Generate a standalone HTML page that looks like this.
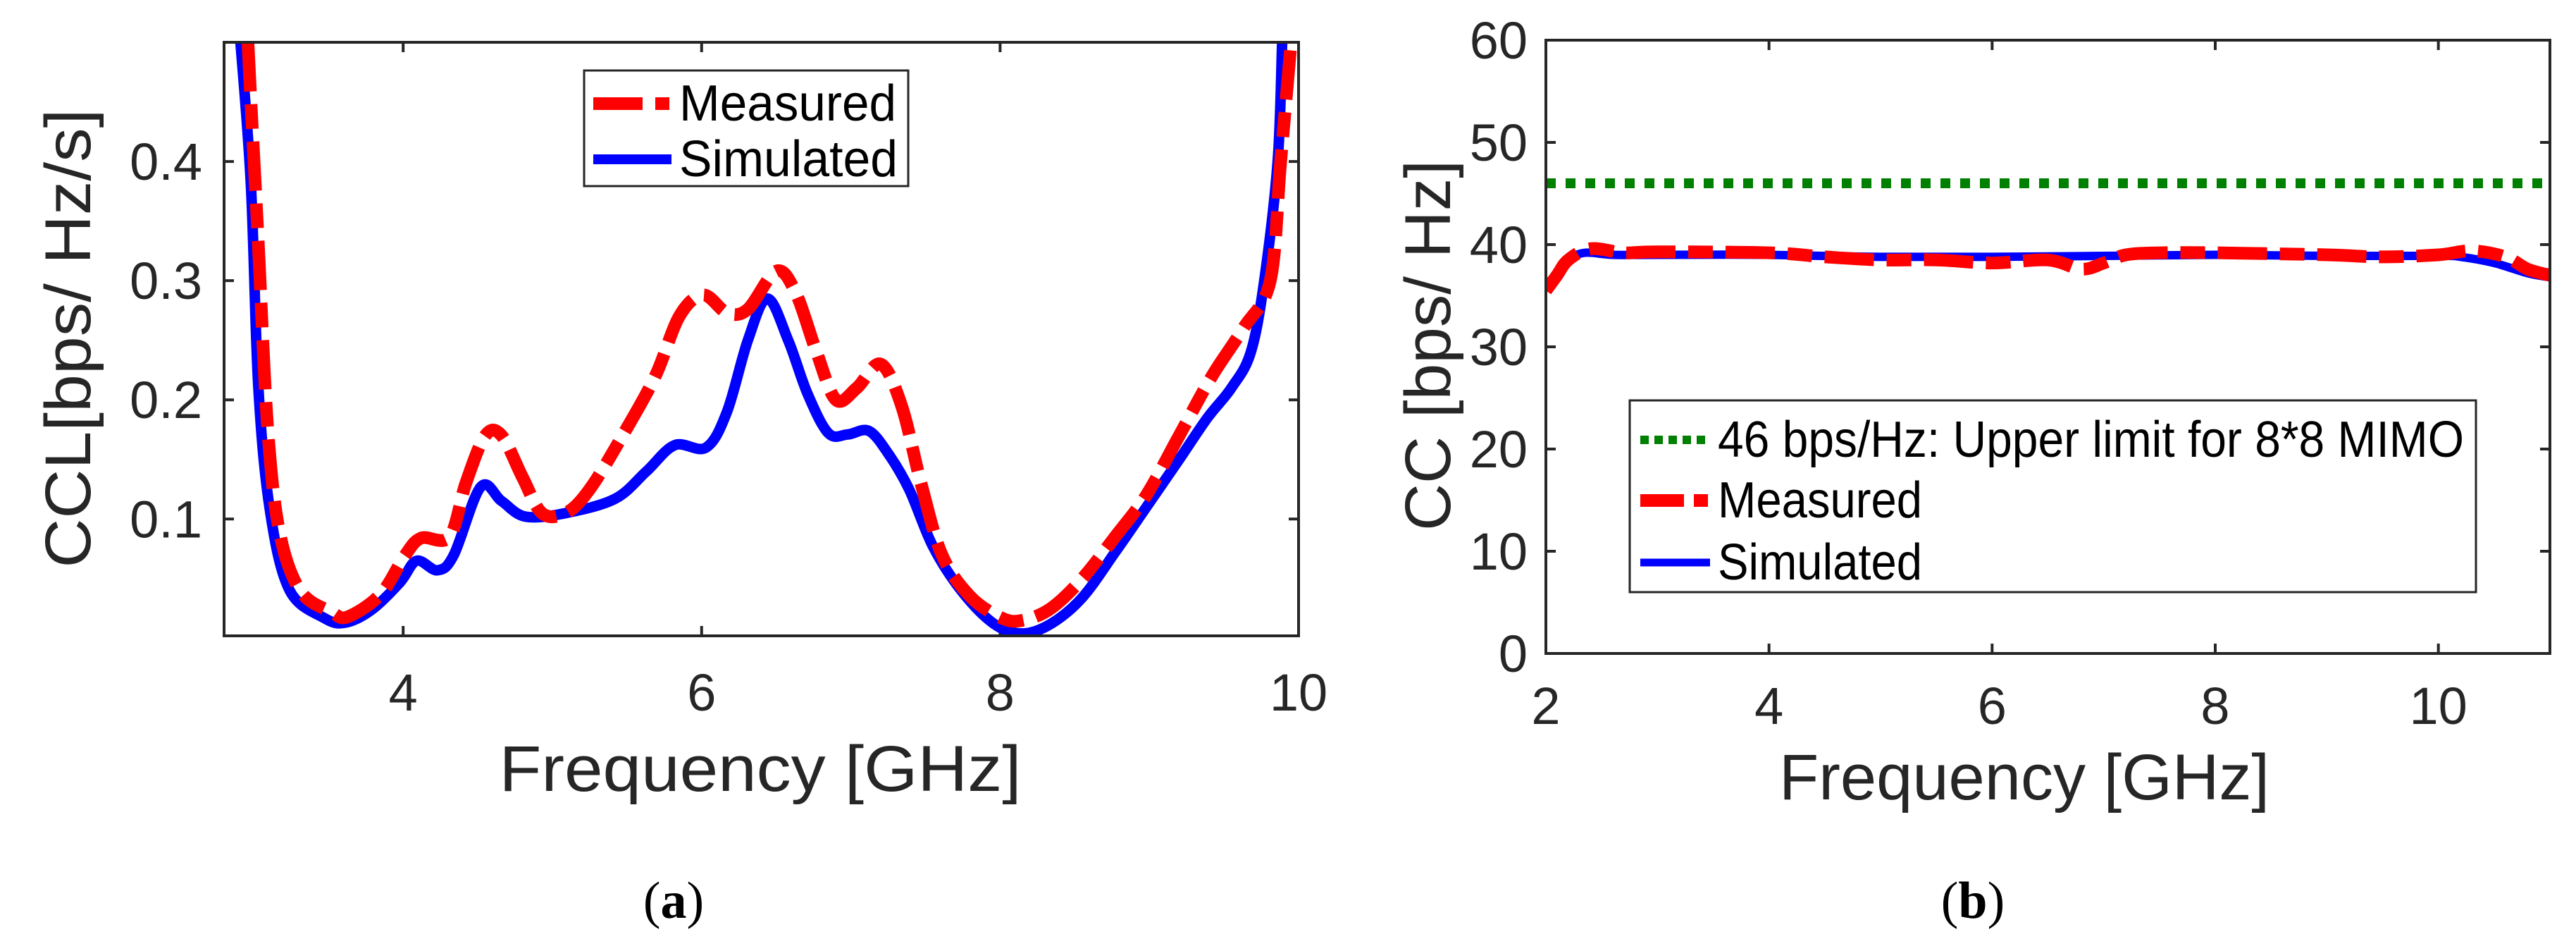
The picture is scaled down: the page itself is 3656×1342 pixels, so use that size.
<!DOCTYPE html>
<html><head><meta charset="utf-8"><style>
html,body{margin:0;padding:0;background:#fff;}
svg{display:block;font-family:"Liberation Sans",sans-serif;}
</style></head><body>
<svg id="fig" width="3656" height="1342" viewBox="0 0 3656 1342" xmlns="http://www.w3.org/2000/svg">
<g id="ga"></g>
<g id="gb"></g>
<text x="956" y="1302" font-family="Liberation Serif,serif" font-size="74" text-anchor="middle">(<tspan font-weight="bold">a</tspan>)</text>
<text x="2800" y="1302" font-family="Liberation Serif,serif" font-size="74" text-anchor="middle">(<tspan font-weight="bold">b</tspan>)</text>
</svg>
<script>
// Chart (a) data
const aSimX = [2.91,2.98,3.03,3.11,3.24,3.47,3.61,3.79,3.98,4.09,4.23,4.34,4.52,4.66,4.82,5.09,5.42,5.63,5.82,6.03,6.17,6.31,6.44,6.58,6.71,6.85,6.98,7.12,7.25,7.39,7.55,7.74,7.96,8.15,8.34,8.55,8.77,8.98,9.2,9.39,9.55,9.68,9.77,9.86,9.89];
const aSimY = [0.5,0.38,0.21,0.105,0.04,0.017,0.013,0.024,0.047,0.065,0.057,0.07,0.127,0.115,0.102,0.105,0.117,0.14,0.162,0.16,0.19,0.25,0.285,0.25,0.205,0.172,0.171,0.174,0.155,0.125,0.077,0.04,0.012,0.004,0.012,0.034,0.072,0.11,0.15,0.185,0.21,0.24,0.3,0.4,0.5];
const aMeasX = [2.96,2.98,3.03,3.09,3.17,3.31,3.52,3.63,3.85,4.01,4.12,4.31,4.42,4.55,4.66,4.8,4.93,5.09,5.25,5.47,5.69,5.85,6.01,6.17,6.31,6.5,6.63,6.77,6.9,7.04,7.2,7.34,7.47,7.61,7.8,8.01,8.15,8.34,8.55,8.77,8.98,9.2,9.42,9.63,9.81,9.88,9.95];
const aMeasY = [0.5,0.45,0.33,0.18,0.09,0.04,0.022,0.018,0.037,0.069,0.084,0.085,0.13,0.17,0.17,0.135,0.105,0.105,0.125,0.17,0.22,0.27,0.288,0.273,0.276,0.308,0.29,0.24,0.2,0.21,0.23,0.195,0.13,0.07,0.035,0.017,0.015,0.025,0.05,0.085,0.12,0.17,0.22,0.26,0.3,0.4,0.5];
const aXTicks = [4,6,8,10];
const aYTicks = [0.1,0.2,0.3,0.4];
// Chart (b) data
const bSimX = [2.0,2.1,2.2,2.35,2.6,3,4,5,6,7,8,9,10,10.2,10.5,10.8,11];
const bSimY = [36,37.2,38.5,39.2,39,39,39,38.8,38.8,38.9,39,38.9,38.9,38.8,38.2,37.2,36.8];
const bMeasX = [2.0,2.1,2.2,2.4,2.7,3,4,4.5,5,5.5,6,6.5,6.8,7.0,7.2,7.5,8,9,9.5,10,10.3,10.6,10.8,11];
const bMeasY = [35.5,37,38.5,39.6,39.2,39.3,39.2,38.8,38.5,38.5,38.2,38.5,37.6,38.2,39,39.2,39.2,39,38.8,39,39.4,38.8,37.6,37];
const bLimit = [46];
const bXTicks = [2,4,6,8,10];
const bYTicks = [0,10,20,30,40,50,60];

const NS="http://www.w3.org/2000/svg";
function mk(parent,tag,attrs,txt){const e=document.createElementNS(NS,tag);for(const k in attrs)e.setAttribute(k,attrs[k]);if(txt!==undefined)e.textContent=txt;parent.appendChild(e);return e;}
function smooth(pts){
  let d='M'+pts[0][0].toFixed(1)+','+pts[0][1].toFixed(1);
  for(let i=0;i<pts.length-1;i++){
    const p0=pts[Math.max(0,i-1)],p1=pts[i],p2=pts[i+1],p3=pts[Math.min(pts.length-1,i+2)];
    const c1=[p1[0]+(p2[0]-p0[0])/6,p1[1]+(p2[1]-p0[1])/6];
    const c2=[p2[0]-(p3[0]-p1[0])/6,p2[1]-(p3[1]-p1[1])/6];
    d+=`C${c1[0].toFixed(1)},${c1[1].toFixed(1)} ${c2[0].toFixed(1)},${c2[1].toFixed(1)} ${p2[0].toFixed(1)},${p2[1].toFixed(1)}`;
  }
  return d;
}

function chart(g,o){
  const sx=v=>o.L+(v-o.x0)/(o.x1-o.x0)*(o.R-o.L);
  const sy=v=>o.B-(v-o.y0)/(o.y1-o.y0)*(o.B-o.T);
  const cp=mk(g,'clipPath',{id:o.id+'clip'});
  mk(cp,'rect',{x:o.L,y:o.T-20,width:o.R-o.L,height:o.B-o.T+20});
  o.xt.forEach(t=>{const x=sx(t);
    const tk=mk(g,'path',{d:`M${x},${o.B}v-14M${x},${o.T}v14`,stroke:'#262626','stroke-width':4});
    
    
    const lb=mk(g,'text',{x:x,y:o.xlY,'font-size':o.fs,'text-anchor':'middle',fill:'#262626'},String(t));
    
    
  });
  o.yt.forEach(t=>{const y=sy(t);
    const tk=mk(g,'path',{d:`M${o.L},${y}h14M${o.R},${y}h-14`,stroke:'#262626','stroke-width':4});
    
    
    const lb=mk(g,'text',{x:o.ylX,y:y+26,'font-size':o.fs,'text-anchor':'end',fill:'#262626'},String(t));
    
    
  });
  const plot=mk(g,'g',{'clip-path':`url(#${o.id}clip)`});
  
  
  const line=(xs,ys,st,name)=>{const d=smooth(xs.map((x,i)=>[sx(x),sy(ys[i])]));
    const p=mk(plot,'path',Object.assign({d:d,fill:'none','stroke-linejoin':'round'},st));
    
    };
  if(o.limit){const y=sy(o.limit[0]);
    const p=mk(plot,'path',{d:`M${o.L},${y}H${o.R}`,stroke:'#008000','stroke-width':14,'stroke-dasharray':'14 14'});
    
    }
  line(o.sx,o.sy,{stroke:'#0000ff','stroke-width':o.bw},'simulated-line');
  line(o.mx,o.my,{stroke:'#ff0000','stroke-width':18,'stroke-dasharray':'70 18 35 18'},'measured-line');
  const fr=mk(g,'rect',{x:o.L,y:o.T,width:o.R-o.L,height:o.B-o.T,fill:'none',stroke:'#262626','stroke-width':4});
  
  
  const xl=mk(g,'text',{x:o.xtX,y:o.xtY,'font-size':92,'text-anchor':'middle',fill:'#262626',textLength:o.xtW,lengthAdjust:'spacingAndGlyphs'},'Frequency [GHz]');
  
  
  const yl=mk(g,'text',{x:0,y:0,'font-size':92,'text-anchor':'middle',fill:'#262626',textLength:o.ytW,lengthAdjust:'spacingAndGlyphs',transform:`translate(${o.ytX},${o.ytY}) rotate(-90)`},o.ytitle);
  
  
}

chart(document.getElementById('ga'),{id:'a',L:318,R:1843,T:60,B:902,x0:2.8,x1:10,y0:0.002,y1:0.5,
  xt:aXTicks,yt:aYTicks,fs:74,xlY:1008,ylX:287,bw:15,sx:aSimX,sy:aSimY,mx:aMeasX,my:aMeasY,
  xtX:1079,xtY:1122,xtW:741,ytX:128,ytY:480,ytW:651,ytitle:'CCL[bps/ Hz/s]'});
chart(document.getElementById('gb'),{id:'b',L:2194,R:3619,T:57,B:927,x0:2,x1:11,y0:0,y1:60,
  xt:bXTicks,yt:bYTicks,fs:74,xlY:1027,ylX:2168,bw:12,sx:bSimX,sy:bSimY,mx:bMeasX,my:bMeasY,limit:bLimit,
  xtX:2873,xtY:1134,xtW:696,ytX:2058,ytY:490,ytW:526,ytitle:'CC [bps/ Hz]'});

function legend(g,box,entries,textX,lx0,lx1){
  const lg=mk(g,'g',{});
  
  
  mk(lg,'rect',{x:box[0],y:box[1],width:box[2],height:box[3],fill:'#fff',stroke:'#262626','stroke-width':3});
  entries.forEach(e=>{
    const en=mk(lg,'g',{});
    
    
    mk(en,'path',Object.assign({d:`M${lx0},${e.y-24}H${lx1}`,fill:'none'},e.st));
    const t=mk(en,'text',{x:textX,y:e.y,'font-size':72,fill:'#000'},e.t);
    if(e.w){t.setAttribute('textLength',e.w);t.setAttribute('lengthAdjust','spacingAndGlyphs');}
  });
}
const red={stroke:'#ff0000','stroke-width':18,'stroke-dasharray':'70 18 20 18'};
legend(document.getElementById('ga'),[829,100,460,164],[
  {y:171,t:'Measured',w:308,st:red},
  {y:250,t:'Simulated',w:310,st:{stroke:'#0000ff','stroke-width':14}}],964,842,953);
legend(document.getElementById('gb'),[2313,568,1201,272],[
  {y:648,t:'46 bps/Hz: Upper limit for 8*8 MIMO',w:1059,st:{stroke:'#008000','stroke-width':12,'stroke-dasharray':'12 8'}},
  {y:734,t:'Measured',w:290,st:{stroke:'#ff0000','stroke-width':18,'stroke-dasharray':'62 14 20 14'}},
  {y:822,t:'Simulated',w:290,st:{stroke:'#0000ff','stroke-width':11}}],2438,2328,2427);
</script>
</body></html>
